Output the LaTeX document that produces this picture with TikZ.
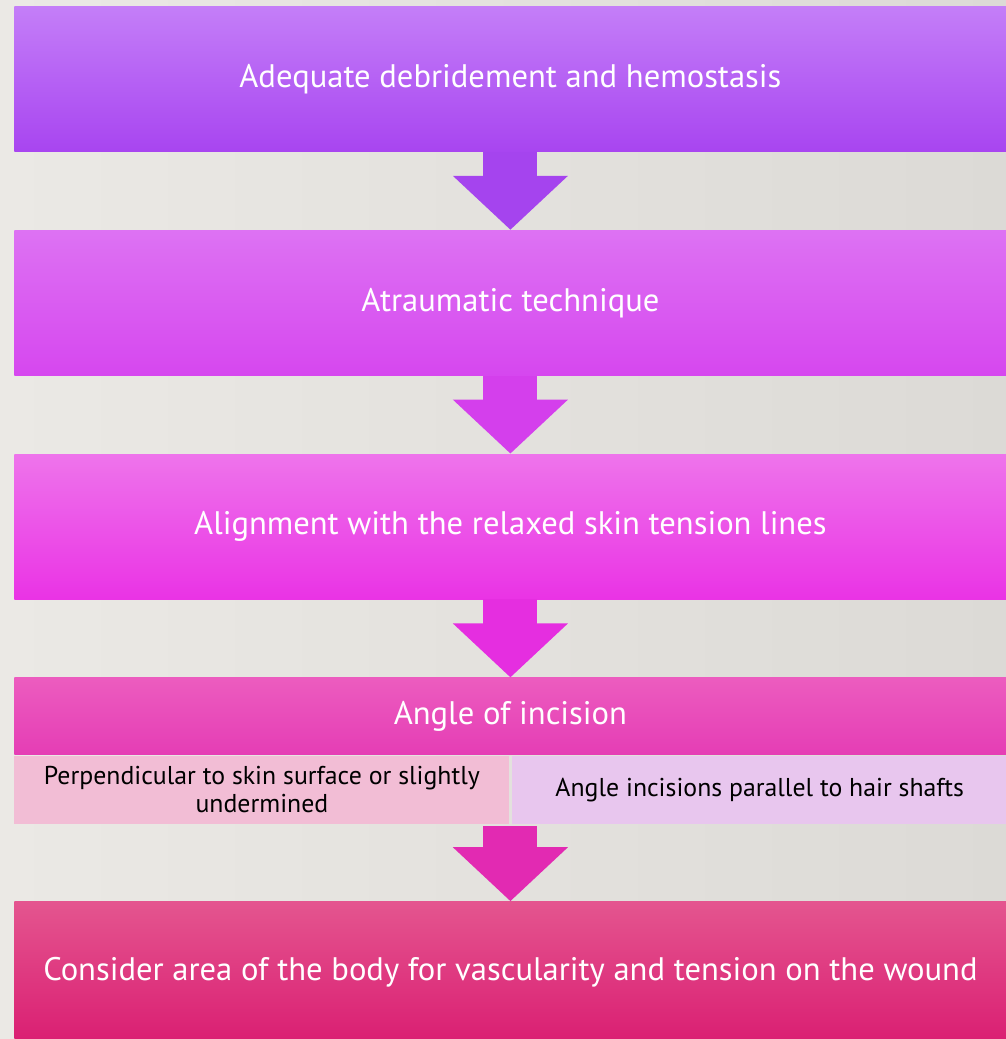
\documentclass[tikz,border=0pt]{standalone}
\usepackage{fontspec}
\setmainfont{PT Sans}
\usetikzlibrary{arrows.meta,positioning,calc}
\definecolor{bgleft}{HTML}{EBE9E5}
\definecolor{bgright}{HTML}{DCDAD6}
\definecolor{debtop}{HTML}{C47EF8}
\definecolor{debbot}{HTML}{A845F0}
\definecolor{atrtop}{HTML}{DD72F3}
\definecolor{atrbot}{HTML}{D647EF}
\definecolor{alitop}{HTML}{EE74EB}
\definecolor{alibot}{HTML}{EA33E5}
\definecolor{angtop}{HTML}{EC5CBF}
\definecolor{angbot}{HTML}{E53DB5}
\definecolor{perp}{HTML}{F2BDD5}
\definecolor{hair}{HTML}{E8C6EE}
\definecolor{contop}{HTML}{E4558F}
\definecolor{conbot}{HTML}{DA1E72}
\definecolor{arrA}{HTML}{A544EE}
\definecolor{arrB}{HTML}{D43FEC}
\definecolor{arrC}{HTML}{E52EE0}
\definecolor{arrD}{HTML}{E22AB2}
\tikzset{
  every node/.style={font=\fontsize{16.3}{19}\selectfont,text=white},
  box/.style={minimum width=496pt,minimum height=72.5pt,align=center,inner sep=0pt},
  subbox/.style={minimum width=247.5pt,minimum height=34pt,align=center,inner sep=0pt,text=black,font=\fontsize{12.9}{13.6}\selectfont},
  flow/.style={line width=27pt,-{Triangle[length=27pt,width=56pt]}},
}

\begin{document}
\begin{tikzpicture}[node distance=39pt]

\fill[left color=bgleft,right color=bgright] (0,0) rectangle (503pt,-519.5pt);
\useasboundingbox (0,0) rectangle (503pt,-519.5pt);

\node[box,top color=debtop,bottom color=debbot,anchor=north west] (debride) at (7pt,-3pt) {Adequate debridement and hemostasis};
\node[box,top color=atrtop,bottom color=atrbot,below=of debride] (atraum) {Atraumatic technique};
\node[box,top color=alitop,bottom color=alibot,below=of atraum] (align) {Alignment with the relaxed skin tension lines};
\node[box,top color=angtop,bottom color=angbot,minimum height=38.5pt,below=of align] (angle) {Angle of incision};
\node[subbox,fill=perp,below=0pt of angle.south west,anchor=north west] (perp) {Perpendicular to skin surface or slightly\\undermined};
\node[subbox,fill=hair,right=1pt of perp] (hair) {Angle incisions parallel to hair shafts};
\node[box,top color=contop,bottom color=conbot,minimum height=71pt,below=39pt of angle.south,yshift=-34pt] (consider) {Consider area of the body for vascularity and tension on the wound};

\draw[flow,arrA] (debride) -- (atraum);
\draw[flow,arrB] (atraum) -- (align);
\draw[flow,arrC] (align) -- (angle);
\draw[flow,arrD] ([yshift=-1pt]angle.south |- perp.south) -- (consider);

\end{tikzpicture}
\end{document}
